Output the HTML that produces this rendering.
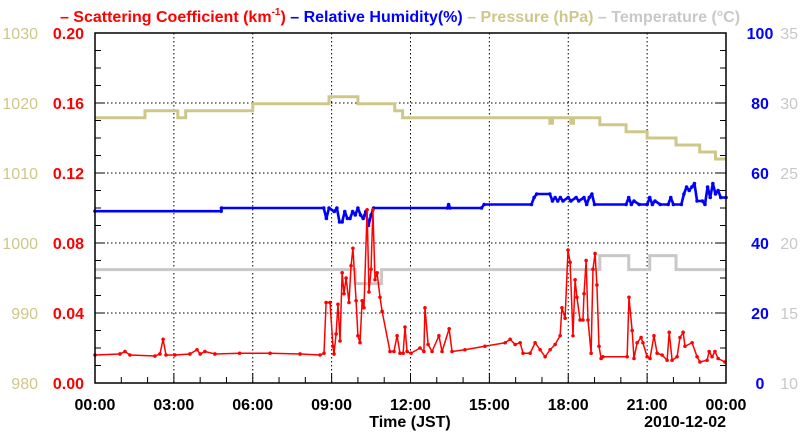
<!DOCTYPE html>
<html><head><meta charset="utf-8"><style>
html,body{margin:0;padding:0;background:#fff;}
svg{display:block;font-family:"Liberation Sans",sans-serif;}
</style></head><body>
<svg id="chart" width="800" height="434">
<text x="400" y="22" text-anchor="middle" font-size="16" font-weight="bold"><tspan fill="#f00">– Scattering Coefficient (km</tspan><tspan fill="#f00" font-size="10" dy="-7">-1</tspan><tspan fill="#f00" dy="7">)</tspan><tspan fill="#00f"> – Relative Humidity(%)</tspan><tspan fill="#cfc78a"> – Pressure (hPa)</tspan><tspan fill="#c8c8c8"> – Temperature (°C)</tspan></text>
<g id="grid"></g><g id="series"></g><g id="axes"></g>
<text x="410" y="427" text-anchor="middle" font-size="16" font-weight="bold">Time (JST)</text>
<text x="726" y="427" text-anchor="end" font-size="16" font-weight="bold">2010-12-02</text>
</svg>
<script>
const scatH=[0,0.95,1.14,1.33,2.28,2.47,2.59,2.7,3.04,3.61,3.88,4.0,4.18,4.56,5.5,6.66,7.8,8.56,8.71,8.79,8.94,9.05,9.09,9.17,9.24,9.32,9.40,9.47,9.55,9.66,9.74,9.81,9.93,10.0,10.08,10.16,10.23,10.35,10.42,10.5,10.57,10.65,10.73,10.84,10.92,11.22,11.37,11.49,11.6,11.72,11.79,11.87,12.02,12.36,12.51,12.55,12.67,12.82,13.08,13.2,13.47,13.58,14.07,14.83,15.6,15.79,15.98,16.17,16.28,16.55,16.74,16.93,17.12,17.31,17.5,17.69,17.76,17.88,17.99,18.07,18.18,18.26,18.33,18.45,18.56,18.6,18.68,18.75,18.87,18.94,19.02,19.09,19.17,19.25,19.32,20.24,20.31,20.43,20.5,20.62,20.77,20.84,21.0,21.11,21.26,21.38,21.57,21.76,21.84,21.95,22.14,22.25,22.37,22.44,22.71,22.9,23.01,23.28,23.36,23.47,23.58,23.7,23.96];
const scatV=[0.016,0.0166,0.018,0.016,0.0154,0.0166,0.025,0.016,0.016,0.0166,0.019,0.0166,0.018,0.0166,0.017,0.017,0.0166,0.016,0.017,0.046,0.046,0.021,0.0166,0.028,0.045,0.024,0.063,0.051,0.06,0.046,0.067,0.077,0.047,0.027,0.023,0.047,0.043,0.099,0.052,0.065,0.099,0.059,0.063,0.049,0.041,0.018,0.018,0.027,0.017,0.017,0.032,0.018,0.017,0.02,0.018,0.043,0.022,0.018,0.027,0.018,0.031,0.018,0.019,0.021,0.023,0.025,0.022,0.023,0.017,0.017,0.023,0.019,0.015,0.019,0.022,0.027,0.043,0.037,0.076,0.069,0.027,0.059,0.049,0.036,0.036,0.051,0.07,0.036,0.017,0.065,0.074,0.056,0.021,0.014,0.015,0.015,0.049,0.03,0.014,0.023,0.026,0.023,0.015,0.014,0.027,0.017,0.016,0.013,0.029,0.013,0.015,0.026,0.029,0.021,0.023,0.015,0.012,0.013,0.018,0.015,0.018,0.014,0.012];
const rhH=[0,4.8,4.81,8.7,8.8,8.9,9.1,9.2,9.3,9.4,9.5,9.6,9.7,9.8,9.9,10.0,10.1,10.2,10.3,10.4,10.5,10.6,13.4,13.45,13.5,14.7,14.8,16.6,16.7,16.8,17.3,17.4,17.5,17.6,17.7,17.8,18.0,18.1,18.3,18.4,18.6,18.7,18.8,18.9,19.0,20.2,20.3,20.4,20.5,20.7,21.0,21.1,21.2,21.3,21.5,21.8,21.9,22.0,22.3,22.4,22.5,22.6,22.7,22.8,22.9,23.1,23.2,23.3,23.4,23.5,23.6,23.7,23.8,24];
const rhV=[49.1,49.1,50,50,47,50,49,50,46,46,49,47,47,49,48,50,48,47,49,45,48,50,50,51,50,50,51,51,53,54,54,52,53,52,53,52,53,52,53,52,53,51,53,54,51,51,53,51,52,51,51,53,51,52,51,51,53,51,51,54,56,55,56,57,52,52,51,56,53,57,54,55,53,53];
const presH=[0,1.9,3.15,3.45,6.0,8.9,10.0,11.4,11.7,17.3,17.4,18.1,18.2,19.2,20.2,21.0,22.1,23.0,23.6,24];
const presV=[1017.9,1018.9,1017.9,1018.9,1019.9,1020.9,1019.9,1018.9,1017.9,1017.1,1017.9,1017.1,1017.9,1016.9,1015.9,1015.0,1014.0,1013.0,1012.0,1012.0];
const tempH=[0,9.9,10.9,19.2,20.3,21.1,22.1,24];
const tempV=[18.1,17.1,18.1,19.1,18.1,19.1,18.1,18.1];
const xTicks=["00:00","03:00","06:00","09:00","12:00","15:00","18:00","21:00","00:00"];
const scatTicks=["0.00","0.04","0.08","0.12","0.16","0.20"];
const presTicks=["980","990","1000","1010","1020","1030"];
const rhTicks=["0","20","40","60","80","100"];
const tempTicks=["10","15","20","25","30","35"];

const L=95,R=726,T=33,B=383,NS="http://www.w3.org/2000/svg";
const x=h=>L+(R-L)*h/24;
const yS=v=>B-(B-T)*v/0.2, yR=v=>B-(B-T)*v/100, yP=v=>B-(B-T)*(v-980)/50, yT=v=>B-(B-T)*(v-10)/25;
function mk(tag,at,parent){const e=document.createElementNS(NS,tag);for(const k in at)e.setAttribute(k,at[k]);parent.appendChild(e);return e;}
const grid=document.getElementById('grid'),ser=document.getElementById('series'),ax=document.getElementById('axes');
for(let i=1;i<8;i++){const g=mk('line',{x1:x(i*3),x2:x(i*3),y1:T,y2:B,stroke:'#000','stroke-width':1,'stroke-dasharray':'1.5,2.5'},grid);

}
for(let i=1;i<5;i++){const g=mk('line',{x1:L,x2:R,y1:yS(i*0.04),y2:yS(i*0.04),stroke:'#000','stroke-width':1,'stroke-dasharray':'1.5,2.5'},grid);

}
function stepPath(H,V,f){let d='';for(let i=0;i<H.length;i++){const px=x(H[i]),py=f(V[i]);if(i===0)d+='M'+px+','+py;else{d+='H'+px+'V'+py;}}return d+'H'+R;}
const tp=mk('path',{d:stepPath(tempH,tempV,yT),fill:'none',stroke:'#c8c8c8','stroke-width':3},ser);


const pp=mk('path',{d:stepPath(presH,presV,yP),fill:'none',stroke:'#cfc78a','stroke-width':3},ser);


function line(H,V,f,c,name,w){const d=H.map((h,i)=>(i?'L':'M')+x(h)+','+f(V[i])).join('');
const p=mk('path',{d:d,fill:'none',stroke:c,'stroke-width':w,'stroke-linejoin':'round'},ser);


H.forEach((h,i)=>{const c2=mk('circle',{cx:x(h),cy:f(V[i]),r:1.8,fill:c},ser);

});}
line(rhH,rhV,yR,'#00f','humidity',2.6);
line(scatH,scatV,yS,'#f00','scattering',1.5);
const fr=mk('rect',{x:L,y:T,width:R-L,height:B-T,fill:'none',stroke:'#000','stroke-width':1.5},ax);


for(let h=1;h<24;h++){const len=h%3===0?10:6;const t=mk('line',{x1:x(h),x2:x(h),y1:B,y2:B-len,stroke:'#000','stroke-width':1},ax);

}
for(let i=1;i<20;i++){const yy=T+(B-T)*i/20;const len=i%4===0?10:6;
const a=mk('line',{x1:L,x2:L+len,y1:yy,y2:yy,stroke:'#000'},ax);
const b=mk('line',{x1:R,x2:R-len,y1:yy,y2:yy,stroke:'#000'},ax);}
function lab(txt,xx,yy,anchor,col,name){const t=mk('text',{x:xx,y:yy,'text-anchor':anchor,fill:col,'font-size':16,'font-weight':name==='pressure-tick-label'||name==='temperature-tick-label'?'normal':'bold'},ax);t.textContent=txt;

}
xTicks.forEach((s,i)=>lab(s,x(i*3),410,'middle','#000','x-tick-label'));
scatTicks.forEach((s,i)=>lab(s,84,yS(i*0.04)+6,'end','#f00','scattering-tick-label'));
presTicks.forEach((s,i)=>lab(s,38,yP(980+i*10)+6,'end','#cfc78a','pressure-tick-label'));
rhTicks.forEach((s,i)=>lab(s,760,yR(i*20)+6,'middle','#00f','humidity-tick-label'));
tempTicks.forEach((s,i)=>lab(s,798,yT(10+i*5)+6,'end','#c8c8c8','temperature-tick-label'));
</script>
</body></html>
